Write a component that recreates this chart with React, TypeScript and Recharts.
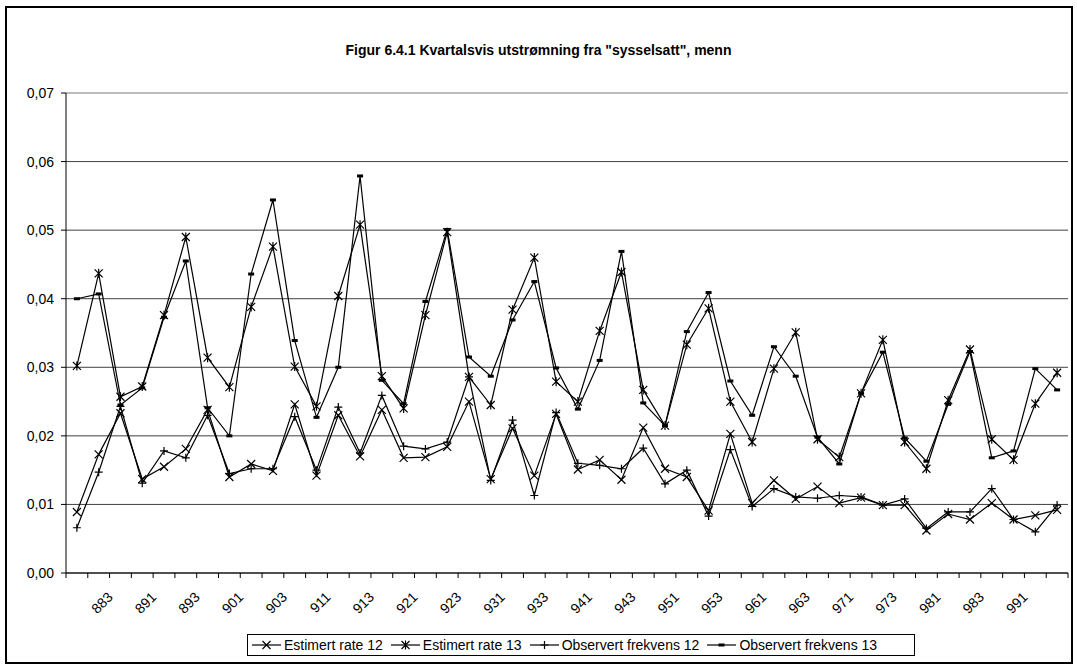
import { CartesianGrid, Line, LineChart, ReferenceLine, XAxis, YAxis } from 'recharts';

// quarters: yyq (year 88-99, quarter 1-4)
const quarters = [
  '882', '883', '884', '891', '892', '893', '894', '901', '902', '903', '904',
  '911', '912', '913', '914', '921', '922', '923', '924', '931', '932', '933', '934',
  '941', '942', '943', '944', '951', '952', '953', '954', '961', '962', '963', '964',
  '971', '972', '973', '974', '981', '982', '983', '984', '991', '992', '993',
];

const estimertRate12 = [
  0.0089, 0.0173, 0.0233, 0.0137, 0.0155, 0.0181, 0.0238, 0.0140, 0.0159, 0.0149, 0.0246,
  0.0142, 0.0230, 0.0170, 0.0238, 0.0168, 0.0169, 0.0184, 0.0250, 0.0137, 0.0211, 0.0142, 0.0232,
  0.0151, 0.0165, 0.0136, 0.0212, 0.0152, 0.0140, 0.0091, 0.0203, 0.0102, 0.0135, 0.0108, 0.0126,
  0.0102, 0.0110, 0.0099, 0.0099, 0.0062, 0.0086, 0.0078, 0.0102, 0.0078, 0.0084, 0.0092,
];

const estimertRate13 = [
  0.0302, 0.0437, 0.0257, 0.0272, 0.0376, 0.0490, 0.0314, 0.0271, 0.0388, 0.0476, 0.0301,
  0.0243, 0.0404, 0.0508, 0.0287, 0.0240, 0.0376, 0.0497, 0.0286, 0.0245, 0.0384, 0.0460, 0.0279,
  0.0250, 0.0353, 0.0439, 0.0267, 0.0215, 0.0333, 0.0386, 0.0250, 0.0191, 0.0298, 0.0351, 0.0195,
  0.0169, 0.0262, 0.0340, 0.0191, 0.0152, 0.0252, 0.0326, 0.0195, 0.0165, 0.0247, 0.0292,
];

const observertFrekvens12 = [
  0.0066, 0.0147, 0.0243, 0.0131, 0.0178, 0.0168, 0.0230, 0.0145, 0.0152, 0.0152, 0.0228,
  0.0150, 0.0242, 0.0175, 0.0259, 0.0185, 0.0181, 0.0191, 0.0286, 0.0135, 0.0223, 0.0113, 0.0234,
  0.0160, 0.0157, 0.0152, 0.0182, 0.0130, 0.0150, 0.0083, 0.0180, 0.0097, 0.0123, 0.0111, 0.0109,
  0.0113, 0.0111, 0.0099, 0.0108, 0.0065, 0.0089, 0.0089, 0.0123, 0.0078, 0.0060, 0.0099,
];

const observertFrekvens13 = [
  0.0400, 0.0407, 0.0245, 0.0270, 0.0373, 0.0455, 0.0241, 0.0200, 0.0436, 0.0544, 0.0339,
  0.0227, 0.0300, 0.0579, 0.0281, 0.0247, 0.0396, 0.0501, 0.0315, 0.0287, 0.0369, 0.0425, 0.0299,
  0.0239, 0.0310, 0.0469, 0.0248, 0.0215, 0.0352, 0.0409, 0.0280, 0.0230, 0.0330, 0.0287, 0.0198,
  0.0159, 0.0262, 0.0322, 0.0197, 0.0163, 0.0246, 0.0323, 0.0168, 0.0178, 0.0298, 0.0267,
];

const yTicks = [0, 0.01, 0.02, 0.03, 0.04, 0.05, 0.06, 0.07];

const data = quarters.map((q, i) => ({
  q,
  rate12: estimertRate12[i],
  rate13: estimertRate13[i],
  obs12: observertFrekvens12[i],
  obs13: observertFrekvens13[i],
}));

const FONT = '"Liberation Sans", Arial, sans-serif';
const W = 1077;
const H = 668;
const PLOT_LEFT = 66;
const PLOT_RIGHT = 1068;
const BAND = (PLOT_RIGHT - PLOT_LEFT) / quarters.length;

const crossPath = (cx: number, cy: number) =>
  `M${cx - 4},${cy - 4}L${cx + 4},${cy + 4}M${cx - 4},${cy + 4}L${cx + 4},${cy - 4}`;
const plusPath = (cx: number, cy: number) =>
  `M${cx - 4},${cy}L${cx + 4},${cy}M${cx},${cy - 4}L${cx},${cy + 4}`;

const CrossDot = ({ cx, cy }: any) =>
  cx == null ? null : <path d={crossPath(cx, cy)} stroke="#000" strokeWidth={1.2} fill="none" />;

const StarDot = ({ cx, cy }: any) =>
  cx == null ? null : (
    <path d={`${crossPath(cx, cy)}M${cx},${cy - 4.5}L${cx},${cy + 4.5}`} stroke="#000" strokeWidth={1.2} fill="none" />
  );

const PlusDot = ({ cx, cy }: any) =>
  cx == null ? null : <path d={plusPath(cx, cy)} stroke="#000" strokeWidth={1.2} fill="none" />;

const DashDot = ({ cx, cy }: any) =>
  cx == null ? null : <rect x={cx - 3} y={cy - 1.5} width={6} height={3} fill="#000" />;

const series = [
  { key: 'rate12', name: 'Estimert rate 12', Dot: CrossDot },
  { key: 'rate13', name: 'Estimert rate 13', Dot: StarDot },
  { key: 'obs12', name: 'Observert frekvens 12', Dot: PlusDot },
  { key: 'obs13', name: 'Observert frekvens 13', Dot: DashDot },
];

// Excel-style: tick marks between categories, label on every second category
const QuarterTick = (props: any) => {
  const { x, y, payload, index } = props;
  const half = BAND / 2;
  const tx = x + 15;
  const ty = y + 25;
  const showLabel = index % 2 === 1 && index < quarters.length - 1;
  return (
    <g>
      <line x1={x - half} x2={x - half} y1={y} y2={y + 5} stroke="#000" />
      {index === quarters.length - 1 && <line x1={x + half} x2={x + half} y1={y} y2={y + 5} stroke="#000" />}
      {showLabel && (
        <text
          x={tx}
          y={ty}
          transform={`rotate(-45 ${tx} ${ty})`}
          textAnchor="end"
          fontSize={14}
          fontFamily={FONT}
          fill="#000"
        >
          {payload.value}
        </text>
      )}
    </g>
  );
};

const App = () => {
  return (
    <div style={{ position: 'absolute', left: 0, top: 0, width: W, height: H, background: '#fff', fontFamily: FONT }}>
      <div
        style={{
          position: 'absolute',
          left: 5,
          top: 6,
          width: 1064,
          height: 654,
          border: '2px solid #000',
        }}
      />
      <div
        style={{
          position: 'absolute',
          top: 42,
          left: 0,
          width: W,
          textAlign: 'center',
          fontWeight: 'bold',
          fontSize: 14,
          color: '#000',
        }}
      >
        Figur 6.4.1 Kvartalsvis utstrømning fra "sysselsatt", menn
      </div>
      <LineChart
        width={W}
        height={H}
        data={data}
        margin={{ top: 93, right: W - PLOT_RIGHT, left: 8, bottom: 45 }}
        style={{ position: 'absolute', left: 0, top: 0 }}
      >
        <CartesianGrid vertical={false} stroke="#404040" />
        <ReferenceLine y={0.07} stroke="#d9d9d9" />
        <XAxis
          dataKey="q"
          interval={0}
          height={50}
          tickSize={0}
          tickMargin={0}
          tickLine={false}
          padding={{ left: BAND / 2, right: BAND / 2 }}
          axisLine={{ stroke: '#000' }}
          tick={<QuarterTick />}
        />
        <YAxis
          width={58}
          domain={[0, 0.07]}
          ticks={yTicks}
          tickSize={5}
          tickMargin={7}
          axisLine={{ stroke: '#000' }}
          tickLine={{ stroke: '#000' }}
          tick={{ fill: '#000', fontSize: 14, fontFamily: FONT }}
          tickFormatter={(v: number) => v.toFixed(2).replace('.', ',')}
        />
        {series.map((s) => (
          <Line
            key={s.key}
            type="linear"
            dataKey={s.key}
            name={s.name}
            stroke="#000"
            strokeWidth={1.2}
            dot={<s.Dot />}
            activeDot={false}
            isAnimationActive={false}
          />
        ))}
      </LineChart>
      <div
        style={{
          position: 'absolute',
          left: 247,
          top: 634,
          width: 668,
          height: 22,
          border: '1px solid #000',
          boxSizing: 'border-box',
          display: 'flex',
          alignItems: 'center',
          paddingLeft: 4,
          fontSize: 14,
          color: '#000',
          whiteSpace: 'nowrap',
        }}
      >
        {series.map((s) => (
          <div key={s.key} style={{ display: 'flex', alignItems: 'center', marginRight: 8 }}>
            <svg width={29} height={12} style={{ marginRight: 3 }}>
              <line x1={0} x2={29} y1={6} y2={6} stroke="#000" strokeWidth={1.2} />
              <s.Dot cx={14.5} cy={6} />
            </svg>
            <span>{s.name}</span>
          </div>
        ))}
      </div>
    </div>
  );
};

export default App;
